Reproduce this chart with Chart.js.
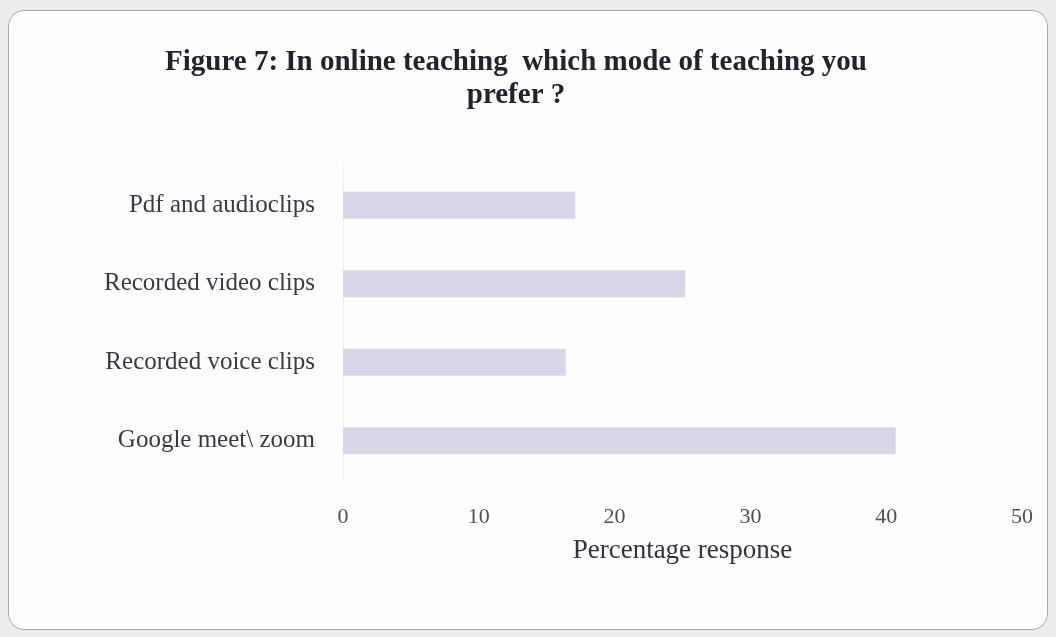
<!DOCTYPE html>
<html>
<head>
<meta charset="utf-8">
<script src="https://cdn.jsdelivr.net/npm/chart.js@4"></script>
<style>
  html, body { margin: 0; padding: 0; width: 1056px; height: 637px; background: #ececec; overflow: hidden; }
  #card { position: absolute; left: 8px; top: 10px; width: 1040px; height: 620px; background: #fdfdfd; border: 1.5px solid #a9a9a9; border-radius: 16px; box-sizing: border-box; }
  #wrap { position: absolute; left: 0; top: 0; width: 1056px; height: 637px; }
</style>
</head>
<body>
<div id="card"></div>
<div id="wrap"><canvas id="c"></canvas></div>
<script>
const titleLines = ["Figure 7: In online teaching  which mode of teaching you", "prefer ?"];
const categories = ["Pdf and audioclips", "Recorded video clips", "Recorded voice clips", "Google meet\\ zoom"];
const percentValues = [17.1, 25.2, 16.4, 40.7];
const xTickValues = [0, 10, 20, 30, 40, 50];
const xAxisTitle = "Percentage response";

new Chart(document.getElementById('c'), {
  type: 'bar',
  data: {
    labels: categories,
    datasets: [{
      data: percentValues,
      backgroundColor: '#d9d7e7',
      borderWidth: 0,
      categoryPercentage: 0.8,
      barPercentage: 0.43
    }]
  },
  options: {
    indexAxis: 'y',
    responsive: true,
    maintainAspectRatio: false,
    animation: false,
    layout: { padding: { top: 46, right: 34, bottom: 70, left: 10 } },
    plugins: {
      legend: { display: false },
      tooltip: { enabled: false },
      title: {
        display: true,
        text: titleLines,
        color: '#23232e',
        font: { family: 'Liberation Serif', size: 29, weight: 'bold', lineHeight: 1.14 },
        padding: { top: 0, bottom: 54 }
      }
    },
    scales: {
      x: {
        min: 0, max: 50,
        afterBuildTicks: (s) => { s.ticks = xTickValues.map(v => ({ value: v })); },
        afterFit: (s) => { s.height = 87; },
        grid: { display: false },
        border: { display: false },
        ticks: { color: '#505058', padding: 16, font: { family: 'Liberation Serif', size: 22 } },
        title: { display: true, text: xAxisTitle, color: '#33333d', padding: { top: 0, bottom: 0 }, font: { family: 'Liberation Serif', size: 27 } }
      },
      y: {
        afterFit: (s) => { s.width = 333; },
        grid: { display: false },
        border: { display: true, color: '#f0f0f0' },
        ticks: { color: '#3a3a46', padding: 20, font: { family: 'Liberation Serif', size: 25 } }
      }
    }
  }
});
</script>
</body>
</html>
